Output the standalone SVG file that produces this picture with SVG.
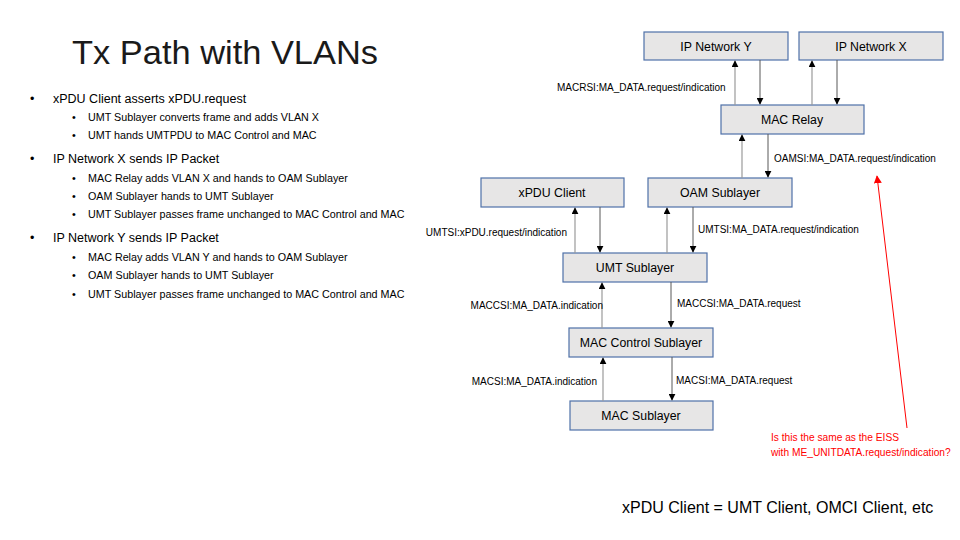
<svg xmlns="http://www.w3.org/2000/svg" width="960" height="540" viewBox="0 0 960 540">
<style>
.box{fill:#e7e6e6;stroke:#4f71a8;stroke-width:1.2}
.bt{font-family:"Liberation Sans",Arial,sans-serif;font-size:12.3px;fill:#000;text-anchor:middle}
.lbl{font-family:"Liberation Sans",Arial,sans-serif;font-size:10px;fill:#000}
.red{font-family:"Liberation Sans",Arial,sans-serif;font-size:10.2px;fill:#ff0000}
.b1{font-family:"Liberation Sans",Arial,sans-serif;font-size:12.5px;fill:#000}
.b2{font-family:"Liberation Sans",Arial,sans-serif;font-size:10.75px;fill:#000}
.up{stroke:#9a9a9a;stroke-width:1.2;fill:none;marker-end:url(#ah)}
.dn{stroke:#595959;stroke-width:1;fill:none;marker-end:url(#ah)}
</style>
<defs>
<marker id="ah" viewBox="0 0 10 10" refX="9" refY="5" markerWidth="7" markerHeight="7" markerUnits="userSpaceOnUse" orient="auto"><path d="M0,0 L10,5 L0,10 z" fill="#000"/></marker>
<marker id="ahr" viewBox="0 0 10 10" refX="9" refY="5" markerWidth="8" markerHeight="8" markerUnits="userSpaceOnUse" orient="auto"><path d="M0,0 L10,5 L0,10 z" fill="#ff0000"/></marker>
</defs>
<rect width="960" height="540" fill="#fff"/>
<text x="72" y="64" font-family="Liberation Sans,Arial,sans-serif" font-size="34" fill="#1a1a1a" textLength="306" lengthAdjust="spacingAndGlyphs">Tx Path with VLANs</text>
<g id="bullets">
<text x="30" y="103" class="b1">•</text><text x="53" y="103" class="b1">xPDU Client asserts xPDU.request</text>
<text x="72" y="121" class="b2">•</text><text x="88" y="121" class="b2">UMT Sublayer converts frame and adds VLAN X</text>
<text x="72" y="139" class="b2">•</text><text x="88" y="139" class="b2">UMT hands UMTPDU to MAC Control and MAC</text>
<text x="30" y="163" class="b1">•</text><text x="53" y="163" class="b1">IP Network X sends IP Packet</text>
<text x="72" y="182" class="b2">•</text><text x="88" y="182" class="b2">MAC Relay adds VLAN X and hands to OAM Sublayer</text>
<text x="72" y="200" class="b2">•</text><text x="88" y="200" class="b2">OAM Sublayer hands to UMT Sublayer</text>
<text x="72" y="218" class="b2">•</text><text x="88" y="218" class="b2">UMT Sublayer passes frame unchanged to MAC Control and MAC</text>
<text x="30" y="242" class="b1">•</text><text x="53" y="242" class="b1">IP Network Y sends IP Packet</text>
<text x="72" y="261" class="b2">•</text><text x="88" y="261" class="b2">MAC Relay adds VLAN Y and hands to OAM Sublayer</text>
<text x="72" y="279" class="b2">•</text><text x="88" y="279" class="b2">OAM Sublayer hands to UMT Sublayer</text>
<text x="72" y="298" class="b2">•</text><text x="88" y="298" class="b2">UMT Sublayer passes frame unchanged to MAC Control and MAC</text>
</g>
<g id="ipy"><rect class="box" x="644" y="32" width="144" height="28"/><text class="bt" x="716" y="50.5">IP Network Y</text></g>
<g id="ipx"><rect class="box" x="799" y="32" width="144" height="28"/><text class="bt" x="871" y="50.5">IP Network X</text></g>
<g id="macrelay"><rect class="box" x="721" y="105" width="143" height="29"/><text class="bt" x="792" y="124">MAC Relay</text></g>
<g id="xpdu"><rect class="box" x="481" y="178" width="143" height="29"/><text class="bt" x="552" y="197">xPDU Client</text></g>
<g id="oam"><rect class="box" x="648" y="178" width="144" height="29"/><text class="bt" x="720" y="197">OAM Sublayer</text></g>
<g id="umt"><rect class="box" x="563" y="253" width="144" height="29"/><text class="bt" x="635" y="272">UMT Sublayer</text></g>
<g id="macctl"><rect class="box" x="569" y="328" width="144" height="29"/><text class="bt" x="641" y="347">MAC Control Sublayer</text></g>
<g id="mac"><rect class="box" x="570" y="401" width="143" height="29"/><text class="bt" x="641" y="420">MAC Sublayer</text></g>
<g id="connectors">
<line class="up" x1="735" y1="105" x2="735" y2="61"/>
<line class="dn" x1="760" y1="60" x2="760" y2="104"/>
<line class="up" x1="812" y1="105" x2="812" y2="61"/>
<line class="dn" x1="837" y1="60" x2="837" y2="104"/>
<line class="up" x1="742" y1="178" x2="742" y2="135"/>
<line class="dn" x1="768" y1="134" x2="768" y2="177"/>
<line class="up" x1="575" y1="253" x2="575" y2="208"/>
<line class="dn" x1="600" y1="207" x2="600" y2="252"/>
<line class="up" x1="667" y1="253" x2="667" y2="208"/>
<line class="dn" x1="693" y1="207" x2="693" y2="252"/>
<line class="up" x1="602" y1="328" x2="602" y2="283"/>
<line class="dn" x1="671" y1="282" x2="671" y2="327"/>
<line class="up" x1="603" y1="401" x2="603" y2="358"/>
<line class="dn" x1="672" y1="357" x2="672" y2="400"/>
<line x1="907" y1="428" x2="877" y2="176" stroke="#ff0000" stroke-width="1" marker-end="url(#ahr)"/>
</g>
<g id="labels">
<text class="lbl" x="557" y="91">MACRSI:MA_DATA.request/indication</text>
<text class="lbl" x="774" y="162">OAMSI:MA_DATA.request/indication</text>
<text class="lbl" x="567" y="236" text-anchor="end">UMTSI:xPDU.request/indication</text>
<text class="lbl" x="698" y="233">UMTSI:MA_DATA.request/indication</text>
<text class="lbl" x="603" y="309" text-anchor="end">MACCSI:MA_DATA.indication</text>
<text class="lbl" x="677" y="307">MACCSI:MA_DATA.request</text>
<text class="lbl" x="597" y="385" text-anchor="end">MACSI:MA_DATA.indication</text>
<text class="lbl" x="676" y="384">MACSI:MA_DATA.request</text>
<text class="red" x="771" y="441">Is this the same as the EISS</text>
<text class="red" x="771" y="456">with ME_UNITDATA.request/indication?</text>
<text x="622" y="513" font-family="Liberation Sans,Arial,sans-serif" font-size="16" fill="#000">xPDU Client = UMT Client, OMCI Client, etc</text>
</g>
</svg>
